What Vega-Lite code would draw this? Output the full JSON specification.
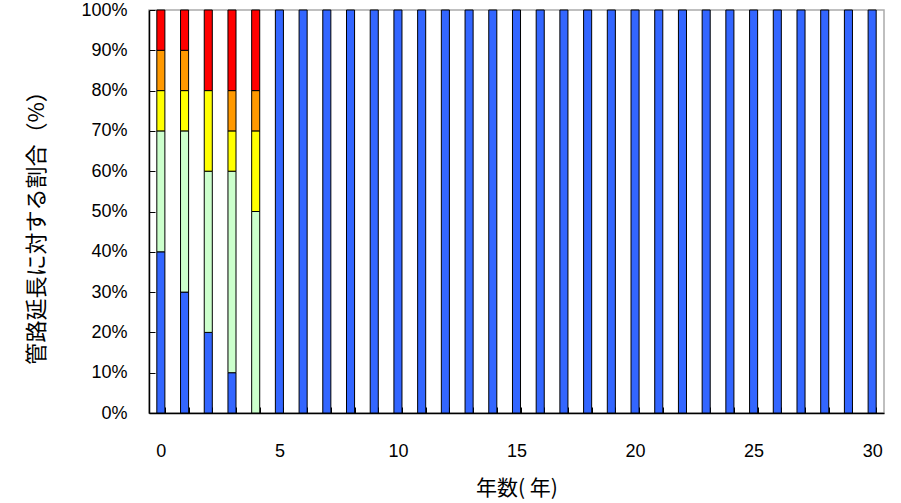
{
  "$schema": "https://vega.github.io/schema/vega-lite/v6.json",
  "autosize": "none",
  "width": 735,
  "height": 403,
  "padding": {"left": 149, "top": 10, "right": 17, "bottom": 90},
  "background": "white",
  "config": {
    "view": {"stroke": "#aaaaaa", "strokeWidth": 1.5},
    "font": "Liberation Sans"
  },
  "data": {
    "values": [
      {"year": 0, "cat": "A", "o": 1, "v": 40},
      {"year": 0, "cat": "B", "o": 2, "v": 30},
      {"year": 0, "cat": "C", "o": 3, "v": 10},
      {"year": 0, "cat": "D", "o": 4, "v": 10},
      {"year": 0, "cat": "E", "o": 5, "v": 10},
      {"year": 1, "cat": "A", "o": 1, "v": 30},
      {"year": 1, "cat": "B", "o": 2, "v": 40},
      {"year": 1, "cat": "C", "o": 3, "v": 10},
      {"year": 1, "cat": "D", "o": 4, "v": 10},
      {"year": 1, "cat": "E", "o": 5, "v": 10},
      {"year": 2, "cat": "A", "o": 1, "v": 20},
      {"year": 2, "cat": "B", "o": 2, "v": 40},
      {"year": 2, "cat": "C", "o": 3, "v": 20},
      {"year": 2, "cat": "D", "o": 4, "v": 0},
      {"year": 2, "cat": "E", "o": 5, "v": 20},
      {"year": 3, "cat": "A", "o": 1, "v": 10},
      {"year": 3, "cat": "B", "o": 2, "v": 50},
      {"year": 3, "cat": "C", "o": 3, "v": 10},
      {"year": 3, "cat": "D", "o": 4, "v": 10},
      {"year": 3, "cat": "E", "o": 5, "v": 20},
      {"year": 4, "cat": "A", "o": 1, "v": 0},
      {"year": 4, "cat": "B", "o": 2, "v": 50},
      {"year": 4, "cat": "C", "o": 3, "v": 20},
      {"year": 4, "cat": "D", "o": 4, "v": 10},
      {"year": 4, "cat": "E", "o": 5, "v": 20},
      {"year": 5, "cat": "A", "o": 1, "v": 100},
      {"year": 6, "cat": "A", "o": 1, "v": 100},
      {"year": 7, "cat": "A", "o": 1, "v": 100},
      {"year": 8, "cat": "A", "o": 1, "v": 100},
      {"year": 9, "cat": "A", "o": 1, "v": 100},
      {"year": 10, "cat": "A", "o": 1, "v": 100},
      {"year": 11, "cat": "A", "o": 1, "v": 100},
      {"year": 12, "cat": "A", "o": 1, "v": 100},
      {"year": 13, "cat": "A", "o": 1, "v": 100},
      {"year": 14, "cat": "A", "o": 1, "v": 100},
      {"year": 15, "cat": "A", "o": 1, "v": 100},
      {"year": 16, "cat": "A", "o": 1, "v": 100},
      {"year": 17, "cat": "A", "o": 1, "v": 100},
      {"year": 18, "cat": "A", "o": 1, "v": 100},
      {"year": 19, "cat": "A", "o": 1, "v": 100},
      {"year": 20, "cat": "A", "o": 1, "v": 100},
      {"year": 21, "cat": "A", "o": 1, "v": 100},
      {"year": 22, "cat": "A", "o": 1, "v": 100},
      {"year": 23, "cat": "A", "o": 1, "v": 100},
      {"year": 24, "cat": "A", "o": 1, "v": 100},
      {"year": 25, "cat": "A", "o": 1, "v": 100},
      {"year": 26, "cat": "A", "o": 1, "v": 100},
      {"year": 27, "cat": "A", "o": 1, "v": 100},
      {"year": 28, "cat": "A", "o": 1, "v": 100},
      {"year": 29, "cat": "A", "o": 1, "v": 100},
      {"year": 30, "cat": "A", "o": 1, "v": 100}
    ]
  },
  "transform": [{"filter": "datum.v > 0"}],
  "mark": {"type": "bar", "stroke": "black", "strokeWidth": 1},
  "encoding": {
    "x": {
      "field": "year",
      "type": "ordinal",
      "sort": "ascending",
      "scale": {"paddingInner": 0.66, "paddingOuter": 0.33},
      "axis": {
        "title": "年数( 年)",
        "titleFont": "Noto Sans CJK JP",
        "titleFontSize": 21,
        "titleFontWeight": "normal",
        "titleColor": "black",
        "titlePadding": 17,
        "labelAngle": 0,
        "labelFontSize": 18,
        "labelColor": "black",
        "labelExpr": "datum.value % 5 == 0 ? datum.label : ''",
        "labelPadding": 35,
        "tickBand": "extent",
        "tickSize": -6,
        "tickColor": "black",
        "domainColor": "black",
        "domainWidth": 1.5,
        "grid": false
      }
    },
    "y": {
      "field": "v",
      "type": "quantitative",
      "stack": "zero",
      "scale": {"domain": [0, 100], "nice": false},
      "axis": {
        "title": "管路延長に対する割合（%）",
        "titleFont": "Noto Sans CJK JP",
        "titleFontSize": 22,
        "titleFontWeight": "normal",
        "titleColor": "black",
        "titlePadding": 32,
        "titleY": 212,
        "values": [0, 10, 20, 30, 40, 50, 60, 70, 80, 90, 100],
        "labelExpr": "datum.value + '%'",
        "labelFontSize": 18,
        "labelColor": "black",
        "labelPadding": 28,
        "tickSize": -6,
        "tickColor": "black",
        "domainColor": "black",
        "domainWidth": 1.5,
        "grid": false
      }
    },
    "color": {
      "field": "cat",
      "type": "nominal",
      "scale": {"domain": ["A", "B", "C", "D", "E"], "range": ["#3366FF", "#CCFFCC", "#FFFF00", "#FF9900", "#FF0000"]},
      "legend": null
    },
    "order": {"field": "o", "type": "quantitative"}
  }
}
